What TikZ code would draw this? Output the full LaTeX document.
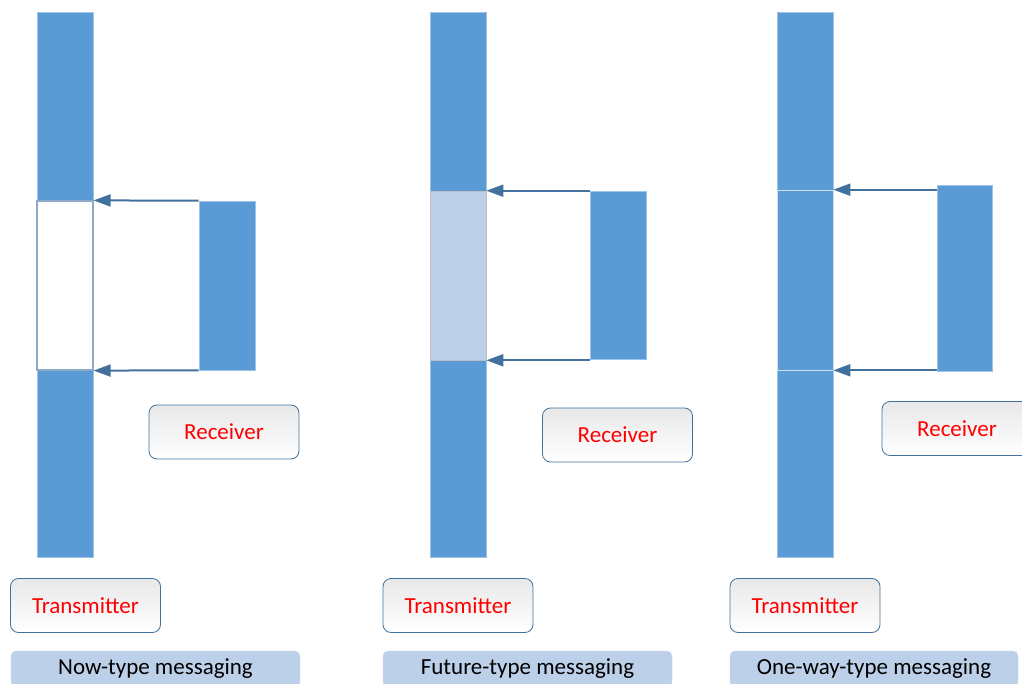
\documentclass[tikz,border=0pt]{standalone}
\usepackage{fontspec}
\setmainfont{Carlito}
\usetikzlibrary{arrows.meta,positioning}
\definecolor{barblue}{RGB}{91,155,213}
\definecolor{linkblue}{RGB}{65,113,156}
\definecolor{capblue}{RGB}{189,208,233}
\definecolor{paleedge}{RGB}{157,195,230}
\definecolor{slotedge}{RGB}{142,169,200}

\begin{document}
\begin{tikzpicture}[x=1pt, y=-1pt, >={Triangle[length=17pt,width=12pt]},
  bar/.style={draw=paleedge, line width=0.6pt, fill=barblue, inner sep=0pt,
    minimum width=56pt},
  msg/.style={->, draw=linkblue, line width=2pt},
  role/.style={draw=linkblue, line width=0.8pt, rounded corners=8pt,
    top color=black!9, bottom color=white, minimum width=150pt,
    minimum height=54pt, text=red, font=\fontsize{23}{28}\selectfont},
  caption/.style={fill=capblue, draw=capblue!80!white, rounded corners=5pt,
    minimum width=289pt, minimum height=36pt,
    font=\fontsize{23}{28}\selectfont}]
\clip (0,0) rectangle (1022,684);

\node[bar, minimum height=545pt] (tx1bar) at (65,284.5) {};
\node[bar, fill=white, draw=slotedge, line width=1.2pt, minimum height=169pt] (slot1) at (65,285.5) {};
\node[bar, minimum height=169pt] (rx1bar) at (227,285.5) {};
\draw[msg] (rx1bar.north west) -- (slot1.north east);
\draw[msg] (rx1bar.south west) -- (slot1.south east);
\node[role] (rx1) at (224,432) {Receiver};
\node[role] (tx1) at (85.5,605.5) {Transmitter};
\node[caption] (cap1) at (155.5,669) {Now-type messaging};

\node[bar, minimum height=545pt] (tx2bar) at (458,284.5) {};
\node[bar, fill=capblue, draw=black!25, minimum height=169pt] (slot2) at (458,275.5) {};
\node[bar, minimum height=168pt] (rx2bar) at (618,275) {};
\draw[msg] (rx2bar.north west) -- (slot2.north east);
\draw[msg] (rx2bar.west |- slot2.south) -- (slot2.south east);
\node[role] (rx2) at (617.5,435) {Receiver};
\node[role] (tx2) at (458,605.5) {Transmitter};
\node[caption] (cap2) at (527.5,669) {Future-type messaging};

\node[bar, minimum height=545pt] (tx3bar) at (805,284.5) {};
\node[bar, draw=capblue!70!white, minimum height=180pt] (slot3) at (805,280) {};
\node[bar, minimum width=55pt, minimum height=186pt] (rx3bar) at (964.5,278) {};
\draw[msg] (rx3bar.west |- slot3.north) -- (slot3.north east);
\draw[msg] (rx3bar.west |- slot3.south) -- (slot3.south east);
\node[role] (rx3) at (957,428.5) {Receiver};
\node[role] (tx3) at (805,605.5) {Transmitter};
\node[caption, minimum width=288pt] (cap3) at (874,669) {One-way-type messaging};
\end{tikzpicture}
\end{document}
